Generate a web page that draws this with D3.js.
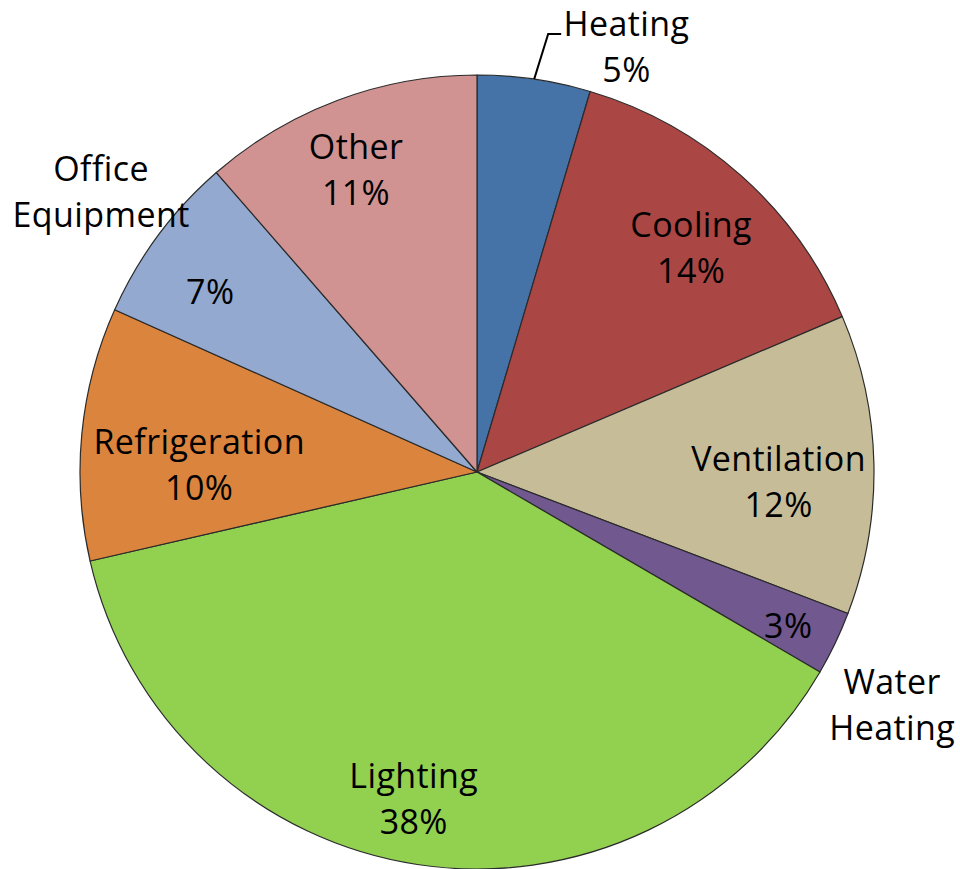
<!DOCTYPE html>
<html>
<head>
<meta charset="utf-8">
<script src="https://cdn.jsdelivr.net/npm/d3@7"></script>
<style>
  body { margin: 0; background: #fff; }
  text { font-family: "Open Sans", Lato, sans-serif; font-size: 34px; letter-spacing: 0.4px; fill: #000; }
</style>
</head>
<body>
<div id="chart"></div>
<script>
// categories and shares (clockwise from 12 o'clock)
const categories = ['Heating', 'Cooling', 'Ventilation', 'Water Heating', 'Lighting', 'Refrigeration', 'Office Equipment', 'Other']
const shares = [4.6, 14.0, 12.2, 2.6, 38.0, 10.3, 6.9, 11.4]
const pctLabels = ['5%', '14%', '12%', '3%', '38%', '10%', '7%', '11%']
const colors = ['#4572a7', '#aa4643', '#c6bd98', '#71588f', '#92d050', '#db843d', '#93a9cf', '#d19392']

// label layout: where each name / pct sits (polar, relative to slice mid angle)
// k = fraction of radius, da = angle offset in degrees
const nameLines = [['Heating'], ['Cooling'], ['Ventilation'], ['Water', 'Heating'], ['Lighting'], ['Refrigeration'], ['Office', 'Equipment'], ['Other']]
const labelLayout = [
  { name: { k: 1.135, da: 11.1 }, together: true, leader: true },
  { name: { k: 0.78, da: 2 }, together: true },
  { name: { k: 0.76, da: 3 }, together: true },
  { name: { k: 1.2, da: 3.8 }, pct: { k: 0.875, da: 0.8 } },
  { name: { k: 0.84, da: 2.3 }, together: true },
  { name: { k: 0.70, da: -4.2 }, together: true },
  { name: { k: 1.18, da: 0.1 }, pct: { k: 0.81, da: -2.6 } },
  { name: { k: 0.82, da: -1.3 }, together: true }
]

const width = 960
const height = 869
const cx = 477
const cy = 472
const radius = 397
const lineH = 46

const data = categories.map((c, i) => ({ name: c, value: shares[i], pct: pctLabels[i], lines: nameLines[i], color: colors[i], layout: labelLayout[i] }))

const svg = d3.select('#chart').append('svg')
  .attr('width', width)
  .attr('height', height)

const g = svg.append('g')
  .attr('transform', 'translate(' + cx + ',' + cy + ')')

const pie = d3.pie()
  .value(d => d.value)
  .sort(null)

const arc = d3.arc()
  .innerRadius(0)
  .outerRadius(radius)

const arcs = pie(data)

g.selectAll('path.slice')
  .data(arcs)
  .enter().append('path')
  .attr('class', 'slice')
  .attr('d', arc)
  .attr('fill', d => d.data.color)
  .attr('stroke', '#2b2b2b')
  .attr('stroke-width', 1.2)
  .attr('stroke-linejoin', 'round')

const polar = (angle, r) => [Math.sin(angle) * r, -Math.cos(angle) * r]
const midAngle = d => (d.startAngle + d.endAngle) / 2
const deg = Math.PI / 180

const labels = g.append('g').attr('class', 'labels')

arcs.forEach((d) => {
  const lay = d.data.layout
  const [nx, ny] = polar(midAngle(d) + lay.name.da * deg, radius * lay.name.k)
  const rows = lay.together ? d.data.lines.concat([d.data.pct]) : d.data.lines
  const t = labels.append('text')
    .attr('text-anchor', 'middle')
    .attr('x', nx)
    .attr('y', ny - (rows.length - 1) * lineH / 2)
  rows.forEach((row, i) => {
    t.append('tspan')
      .attr('x', nx)
      .attr('dy', i === 0 ? '0.35em' : lineH)
      .text(row)
  })
  if (lay.pct) {
    const [px, py] = polar(midAngle(d) + lay.pct.da * deg, radius * lay.pct.k)
    labels.append('text')
      .attr('text-anchor', 'middle')
      .attr('x', px)
      .attr('y', py)
      .attr('dy', '0.35em')
      .text(d.data.pct)
  }
  if (lay.leader) {
    // elbow leader line from the slice edge up to the label
    const start = polar(midAngle(d), radius)
    const elbow = [start[0] + 14, ny - 13]
    labels.append('path')
      .attr('d', d3.line()([start, elbow, [elbow[0] + 13, elbow[1]]]))
      .attr('fill', 'none')
      .attr('stroke', '#000')
      .attr('stroke-width', 2)
  }
})
</script>
</body>
</html>
